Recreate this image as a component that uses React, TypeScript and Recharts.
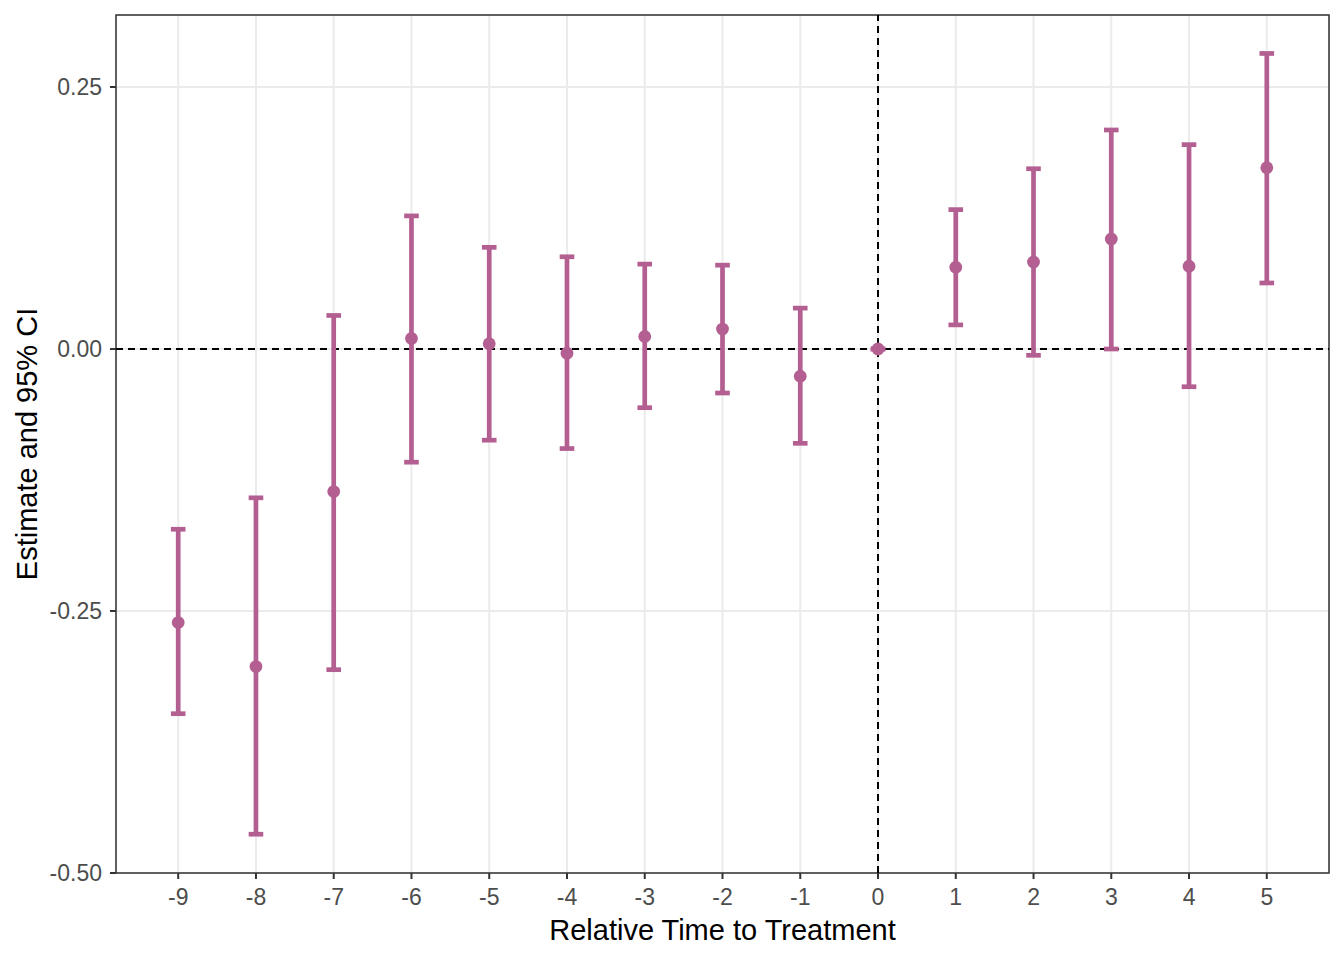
import {
  ComposedChart,
  Scatter,
  XAxis,
  YAxis,
  CartesianGrid,
  ReferenceLine,
  ReferenceArea,
  ErrorBar,
} from 'recharts';

// event-study estimates by period relative to treatment
const periods = [-9, -8, -7, -6, -5, -4, -3, -2, -1, 0, 1, 2, 3, 4, 5];
const estimates = [-0.261, -0.303, -0.136, 0.010, 0.005, -0.004, 0.012, 0.019, -0.026, 0, 0.078, 0.083, 0.105, 0.079, 0.173];
const ciLower = [-0.348, -0.463, -0.306, -0.108, -0.087, -0.095, -0.056, -0.042, -0.090, 0, 0.023, -0.006, 0.000, -0.036, 0.063];
const ciUpper = [-0.172, -0.142, 0.032, 0.127, 0.097, 0.088, 0.081, 0.080, 0.039, 0, 0.133, 0.172, 0.209, 0.195, 0.282];
const yTicks = [-0.5, -0.25, 0, 0.25];

const xDomain = [-9.8, 5.8];
const yDomain = [-0.5, 0.3187];

const purple = '#B45F92';
const font = '"Liberation Sans", Arial, sans-serif';

const data = periods.map((t, i) => ({
  t,
  est: estimates[i],
  ci: [estimates[i] - ciLower[i], ciUpper[i] - estimates[i]],
}));

function Dot(props: any) {
  return <circle cx={props.cx} cy={props.cy} r={6.4} fill={purple} />;
}

function XTitle(props: any) {
  const vb = props.viewBox || { x: 116, y: 873, width: 1213, height: 50 };
  return (
    <text
      x={vb.x + vb.width / 2}
      y={vb.y + 57}
      textAnchor="middle"
      dominantBaseline="central"
      fontFamily={font}
      fontSize={29}
      fill="#000"
    >
      Relative Time to Treatment
    </text>
  );
}

function YTitle(props: any) {
  const vb = props.viewBox || { x: 0, y: 15, width: 116, height: 858 };
  const x = vb.x + 27;
  const y = vb.y + vb.height / 2;
  return (
    <text
      x={x}
      y={y}
      transform={`rotate(-90, ${x}, ${y})`}
      textAnchor="middle"
      dominantBaseline="central"
      fontFamily={font}
      fontSize={29}
      fill="#000"
    >
      Estimate and 95% CI
    </text>
  );
}

export default function App() {
  const tickStyle = { fill: '#4D4D4D', fontSize: 23, fontFamily: font };
  return (
    <div style={{ position: 'absolute', left: 0, top: 0, background: '#fff' }}>
      <ComposedChart
        width={1344}
        height={960}
        data={data}
        margin={{ top: 15, right: 15, bottom: 37, left: 0 }}
      >
        <CartesianGrid stroke="#EBEBEB" strokeWidth={2} />
        <XAxis
          type="number"
          dataKey="t"
          domain={xDomain}
          ticks={periods}
          interval={0}
          allowDataOverflow
          height={50}
          axisLine={false}
          tickLine={{ stroke: '#333333', strokeWidth: 2 }}
          tickSize={6}
          tickMargin={10}
          tick={tickStyle}
          label={<XTitle />}
        />
        <YAxis
          type="number"
          domain={yDomain}
          ticks={yTicks}
          interval={0}
          allowDataOverflow
          width={116}
          axisLine={false}
          tickLine={{ stroke: '#333333', strokeWidth: 2 }}
          tickSize={6}
          tickMargin={8}
          tick={tickStyle}
          tickFormatter={(v: number) => v.toFixed(2)}
          label={<YTitle />}
        />
        <ReferenceLine x={0} stroke="#000" strokeWidth={2} strokeDasharray="7 5" />
        <ReferenceLine y={0} stroke="#000" strokeWidth={2} strokeDasharray="7 5" />
        <Scatter dataKey="est" shape={Dot} isAnimationActive={false}>
          <ErrorBar
            dataKey="ci"
            direction="y"
            width={7.3}
            strokeWidth={4.7}
            stroke={purple}
            isAnimationActive={false}
          />
        </Scatter>
        <ReferenceArea
          x1={xDomain[0]}
          x2={xDomain[1]}
          y1={yDomain[0]}
          y2={yDomain[1]}
          fill="none"
          stroke="#333333"
          strokeWidth={1.5}
        />
      </ComposedChart>
    </div>
  );
}
